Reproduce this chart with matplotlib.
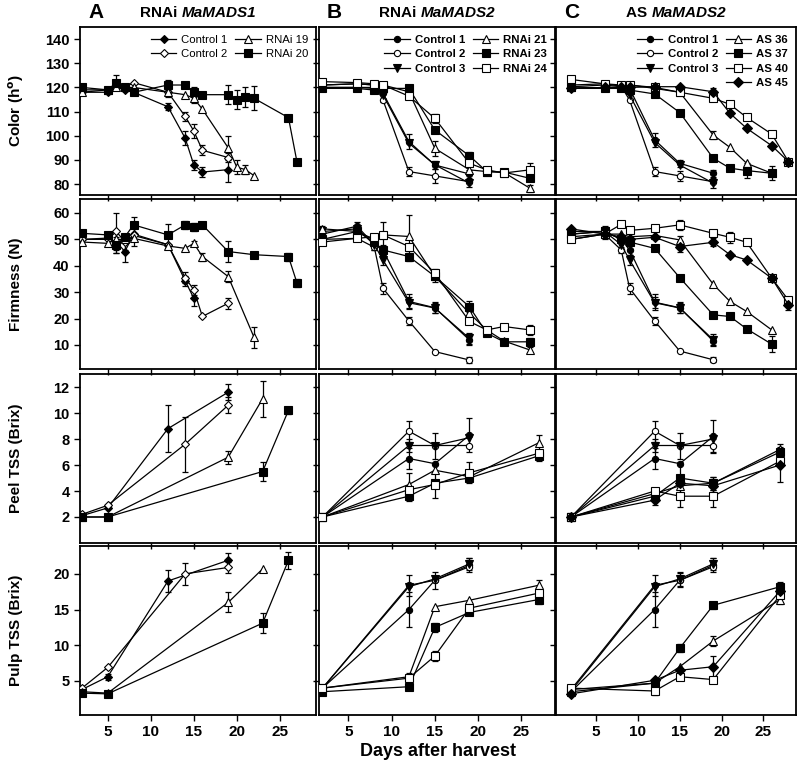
import matplotlib
matplotlib.use('Agg')
import matplotlib.pyplot as plt
from matplotlib.lines import Line2D

plt.rcParams['font.family'] = ['Liberation Sans', 'DejaVu Sans']

# ===================== DATA =====================
# ---- Panel A (RNAi MaMADS1) ----
A_COL_D_CTRL = [2, 5, 6, 7, 8, 12, 14, 15, 16, 19]
A_COL_D_R19 = [2, 5, 6, 7, 8, 12, 14, 15, 16, 19, 20, 21, 22]
A_COL_D_R20 = [2, 5, 6, 7, 8, 12, 14, 15, 16, 19, 20, 21, 22, 26, 27]
A_COL_C1 = [118, 118, 120, 119, 118, 112, 99, 88, 85, 86]
A_COL_C1_E = [0, 0, 0, 0, 0, 1.5, 3, 2, 2, 5]
A_COL_C2 = [119, 119, 121, 120, 122, 118, 108, 102, 94, 91]
A_COL_C2_E = [0, 0, 0, 0, 0, 2, 2, 3, 2, 2]
A_COL_R19 = [118, 119, 120, 120, 120, 118, 117, 115.5, 111, 95, 87, 86, 83.5]
A_COL_R19_E = [0, 0, 0, 0, 0, 0, 0, 2, 0, 5, 3, 2, 0]
A_COL_R20 = [120, 119, 122, 120, 118, 121, 121, 118, 117, 117, 115, 116, 115.5, 107.5, 89]
A_COL_R20_E = [0, 0, 3, 0, 0, 2, 0, 2, 0, 4, 4, 4, 5, 0, 0]

A_FIR_D_C1 = [2, 5, 6, 7, 8, 12, 14, 15]
A_FIR_D_C2 = [2, 5, 6, 7, 8, 12, 14, 15, 16, 19]
A_FIR_D_R19 = [2, 5, 6, 7, 8, 12, 14, 15, 16, 19, 22]
A_FIR_D_R20 = [2, 5, 6, 7, 8, 12, 14, 15, 16, 19, 22, 26, 27]
A_FIR_C1 = [50, 50.5, 49, 45.4, 52, 48, 34.3, 27.7]
A_FIR_C1_E = [0, 0, 4, 4, 0, 0, 2, 3]
A_FIR_C2 = [50, 50, 53, 49, 51.5, 48, 35.5, 30.9, 20.8, 25.8]
A_FIR_C2_E = [0, 0, 7, 3, 4, 0, 2, 2, 0, 2]
A_FIR_R19 = [49, 48.5, 50, 50, 50.4, 47.5, 46.6, 48.5, 43.5, 35.9, 12.9]
A_FIR_R19_E = [0, 0, 0, 0, 0, 0, 0, 1, 1.5, 2, 4]
A_FIR_R20 = [52.3, 51.7, 48, 51, 55.5, 51.7, 55.5, 54.6, 55.5, 45.4, 44.2, 43.5, 33.4]
A_FIR_R20_E = [0, 0, 3, 0, 3, 4, 1.5, 1.5, 1, 4, 0, 1.5, 1.5]

A_TSS_D_C1 = [2, 5, 12, 19]
A_TSS_D_C2 = [2, 5, 14, 19]
A_TSS_D_R19 = [2, 5, 19, 23]
A_TSS_D_R20 = [2, 5, 23, 26]
A_PEEL_C1 = [2.1, 2.7, 8.8, 11.6]
A_PEEL_C1_E = [0, 0, 1.8, 0.6]
A_PEEL_C2 = [2.2, 2.9, 7.6, 10.6]
A_PEEL_C2_E = [0, 0, 2.1, 0.6]
A_PEEL_R19 = [2.0, 2.0, 6.6, 11.1]
A_PEEL_R19_E = [0, 0, 0.5, 1.4]
A_PEEL_R20 = [2.0, 2.0, 5.5, 10.2]
A_PEEL_R20_E = [0, 0, 0.7, 0.3]
A_PULP_C1 = [3.8, 5.6, 19.0, 21.9]
A_PULP_C1_E = [0, 0.4, 1.5, 1.0]
A_PULP_C2 = [4.0, 6.9, 20.0, 20.9]
A_PULP_C2_E = [0, 0, 1.5, 0.8]
A_PULP_R19 = [3.5, 3.3, 16.0, 20.7]
A_PULP_R19_E = [0, 0, 1.4, 0]
A_PULP_R20 = [3.3, 3.2, 13.1, 21.9]
A_PULP_R20_E = [0, 0, 1.4, 1.2]

# ---- Panels B and C shared days ----
BC_D_CTRL = [2, 6, 8, 9, 12, 15, 19]
BC_D_TRANS = [2, 6, 8, 9, 12, 15, 19, 21, 23, 26]
C_D_TRANS_LONG = [2, 6, 8, 9, 12, 15, 19, 21, 23, 26, 28]
BC_TSS_D_CTRL = [2, 12, 15, 19]
BC_TSS_D_TRANS = [2, 12, 15, 19, 27]

# ---- Panel B (RNAi MaMADS2) ----
B_COL_C1 = [120, 120, 120, 117.6, 97.6, 87.9, 84.2]
B_COL_C1_E = [0, 0, 0, 0, 3, 1.5, 1.5]
B_COL_C2 = [121, 121.5, 121, 114.8, 85.2, 83.4, 81]
B_COL_C2_E = [0, 0, 0, 0, 2, 3, 0]
B_COL_C3 = [120, 120, 119.6, 116.9, 96.9, 88, 80.4]
B_COL_C3_E = [0, 0, 0, 3, 0, 0, 1.5]
B_COL_R21 = [121, 121.5, 121, 121, 118.2, 94.8, 85.9, 85.2, 84.8, 78.3]
B_COL_R21_E = [0, 0, 0, 0, 0, 3, 0, 0, 0, 1.5]
B_COL_R23 = [119.6, 119.6, 118.9, 119.6, 119.6, 102.4, 91.7, 85.2, 85, 82.4]
B_COL_R23_E = [0, 0, 0, 0, 0, 0, 1.5, 0, 0, 0]
B_COL_R24 = [122.4, 122, 121.5, 121, 116.4, 107.2, 88.6, 85.9, 84.6, 85.9]
B_COL_R24_E = [0, 0, 0, 0, 0, 2, 0, 0, 0, 3]

B_FIR_C1 = [52, 55, 48, 46, 26.5, 24.1, 11.9]
B_FIR_C1_E = [0, 1.5, 0, 2, 3, 2, 2]
B_FIR_C2 = [50, 50.4, 47, 31.5, 19.1, 7.5, 4.3]
B_FIR_C2_E = [0, 0, 1, 2, 1.5, 0, 1]
B_FIR_C3 = [53, 54, 48, 42.2, 26, 24, 12.5]
B_FIR_C3_E = [2, 1, 2, 2, 2, 2, 2]
B_FIR_R21 = [54, 53, 50, 51.7, 51.1, 36, 22, 15.7, 11.5, 8.1]
B_FIR_R21_E = [0, 0, 2, 0, 8, 0, 0, 0, 0, 1]
B_FIR_R23 = [50, 53, 49, 46, 43.5, 36, 24.5, 14.5, 11.2, 11.2]
B_FIR_R23_E = [0, 0, 0, 0, 1.5, 2, 2, 0, 1, 1.5]
B_FIR_R24 = [49, 50.4, 51, 51.7, 47.3, 37.2, 18.9, 15.7, 17, 15.7]
B_FIR_R24_E = [0, 0, 0, 5, 0, 1.5, 0, 0, 0, 2]

B_PEEL_C1 = [2.0, 6.5, 6.1, 8.3]
B_PEEL_C1_E = [0, 0.8, 0, 1.3]
B_PEEL_C2 = [2.0, 8.6, 7.5, 7.5]
B_PEEL_C2_E = [0, 0.8, 0, 0]
B_PEEL_C3 = [2.0, 7.5, 7.5, 8.1]
B_PEEL_C3_E = [0, 0.5, 1.0, 0]
B_PEEL_R21 = [2.0, 4.5, 5.6, 5.1, 7.7]
B_PEEL_R21_E = [0, 0.9, 0, 0, 0.6]
B_PEEL_R23 = [2.0, 3.6, 4.6, 5.0, 6.7]
B_PEEL_R23_E = [0, 0.4, 0, 0, 0.4]
B_PEEL_R24 = [2.0, 4.1, 4.5, 5.4, 6.9]
B_PEEL_R24_E = [0, 0, 1.0, 0.8, 0]

B_PULP_C1 = [4.0, 15.0, 19.1, 21.2]
B_PULP_C1_E = [0, 2.5, 1.2, 1.0]
B_PULP_C2 = [4.0, 18.4, 19.1, 21.0]
B_PULP_C2_E = [0, 1.5, 0, 0]
B_PULP_C3 = [4.0, 18.2, 19.3, 21.4]
B_PULP_C3_E = [0, 0, 0, 0.8]
B_PULP_R21 = [4.0, 5.6, 15.4, 16.3, 18.4]
B_PULP_R21_E = [0, 0, 0, 0, 0.8]
B_PULP_R23 = [3.5, 4.2, 12.5, 14.6, 16.4]
B_PULP_R23_E = [0, 0, 0.6, 0, 0.6]
B_PULP_R24 = [4.0, 5.4, 8.5, 15.2, 17.3]
B_PULP_R24_E = [0, 0.7, 0.7, 0, 0]

# ---- Panel C (AS MaMADS2) ----
C_COL_C1 = [119.6, 120, 120, 119.6, 98.3, 88.6, 84.5]
C_COL_C1_E = [0, 0, 0, 0, 3, 1.5, 1.5]
C_COL_C2 = [121, 121.5, 120.5, 114.8, 85.2, 83.4, 81]
C_COL_C2_E = [0, 0, 0, 0, 2, 2, 0]
C_COL_C3 = [119.6, 119.6, 119.6, 116.9, 97.2, 87.9, 80.4]
C_COL_C3_E = [0, 0, 0, 0, 0, 0, 2]
C_COL_AS36 = [120.3, 121, 120.3, 121, 119.6, 118, 100.3, 95.2, 88.6, 84.5]
C_COL_AS36_E = [0, 0, 0, 0, 0, 0, 1.5, 0, 0, 0]
C_COL_AS37 = [120.3, 119.6, 119.6, 118.9, 117.3, 109.6, 90.7, 86.6, 85.6, 84.5]
C_COL_AS37_E = [0, 0, 0, 0, 0, 0, 0, 0, 3, 3]
C_COL_AS40 = [123.3, 121.5, 121, 121, 120, 118, 115.5, 113, 107.6, 100.7, 89.3]
C_COL_AS40_E = [0, 0, 0, 0, 0, 0, 0, 0, 0, 0, 0]
C_COL_AS45 = [119.6, 120, 120, 120, 120.3, 120.3, 118.2, 109.3, 103.1, 95.9, 89.3]
C_COL_AS45_E = [0, 0, 0, 0, 0, 0, 1.5, 0, 0, 0, 0]

C_FIR_C1 = [53, 53, 50, 46, 26.2, 24.1, 11.5]
C_FIR_C1_E = [0, 1.5, 0, 2, 3, 2, 2]
C_FIR_C2 = [50, 52, 46, 31.5, 19.1, 7.7, 4.4]
C_FIR_C2_E = [1, 0, 1, 2, 1.5, 0, 1]
C_FIR_C3 = [52, 53, 48, 42.2, 26, 24, 12]
C_FIR_C3_E = [2, 2, 2, 2, 2, 2, 2]
C_FIR_AS36 = [51, 52, 52, 51, 51.5, 49.8, 33, 26.5, 22.7, 15.7]
C_FIR_AS36_E = [0, 0, 0, 0, 0, 1.5, 0, 0, 0, 0]
C_FIR_AS37 = [52, 53, 50, 49, 46.6, 35.5, 21.4, 20.8, 16.1, 10.3]
C_FIR_AS37_E = [0, 0, 0, 0, 0, 0, 0, 0, 0, 3]
C_FIR_AS40 = [50, 52, 55.7, 53.4, 54.2, 55.5, 52.3, 50.8, 48.9, 35.3, 27]
C_FIR_AS40_E = [0, 1.5, 0, 0, 0, 2, 0, 2, 0, 0, 0]
C_FIR_AS45 = [54, 52, 51, 50, 50.8, 47.3, 48.9, 44.2, 42.2, 35.3, 25.2]
C_FIR_AS45_E = [0, 2, 0, 0, 0, 2, 1.5, 0, 0, 0, 2]

C_PEEL_C1 = [2.0, 6.5, 6.1, 8.2]
C_PEEL_C1_E = [0, 0.8, 0, 1.3]
C_PEEL_C2 = [2.0, 8.6, 7.5, 7.5]
C_PEEL_C2_E = [0, 0.8, 0, 0.5]
C_PEEL_C3 = [2.0, 7.5, 7.5, 8.0]
C_PEEL_C3_E = [0, 0.5, 1.0, 0]
C_PEEL_AS36 = [2.0, 3.8, 4.4, 4.6, 7.2]
C_PEEL_AS36_E = [0, 0, 0, 0.5, 0.4]
C_PEEL_AS37 = [2.0, 3.6, 5.0, 4.6, 7.0]
C_PEEL_AS37_E = [0, 0, 1.2, 0.5, 0.4]
C_PEEL_AS40 = [2.0, 4.0, 3.6, 3.6, 6.3]
C_PEEL_AS40_E = [0, 0, 0.8, 0.8, 0]
C_PEEL_AS45 = [2.0, 3.3, 4.6, 4.4, 6.0]
C_PEEL_AS45_E = [0, 0.4, 0, 0, 1.3]

C_PULP_C1 = [3.5, 15.0, 19.1, 21.2]
C_PULP_C1_E = [0, 2.5, 1.0, 1.0]
C_PULP_C2 = [3.8, 18.4, 19.1, 21.0]
C_PULP_C2_E = [0, 1.5, 0, 0]
C_PULP_C3 = [3.6, 18.2, 19.3, 21.4]
C_PULP_C3_E = [0, 0, 1.0, 0.8]
C_PULP_AS36 = [3.5, 4.7, 7.0, 10.6, 16.4]
C_PULP_AS36_E = [0, 0, 0, 0.7, 0.6]
C_PULP_AS37 = [3.8, 4.7, 9.6, 15.6, 18.2]
C_PULP_AS37_E = [0, 0, 0.6, 0.5, 0.6]
C_PULP_AS40 = [4.0, 3.6, 5.6, 5.2, 17.0]
C_PULP_AS40_E = [0, 0.6, 0, 0, 0]
C_PULP_AS45 = [3.2, 5.1, 6.5, 7.0, 17.6]
C_PULP_AS45_E = [0, 0, 0, 1.5, 0]

PANEL_LETTERS = ['A', 'B', 'C']
PANEL_PREFIX = ['RNAi ', 'RNAi ', 'AS ']
PANEL_GENE = ['MaMADS1', 'MaMADS2', 'MaMADS2']
ROW_LABELS = [r'Color (h$^{\mathbf{o}}$)', 'Firmness (N)', 'Peel TSS (Brix)', 'Pulp TSS (Brix)']
ROW_TICKS = [[80, 90, 100, 110, 120, 130, 140], [10, 20, 30, 40, 50, 60],
             [2, 4, 6, 8, 10, 12], [5, 10, 15, 20]]
X_TICKS = [5, 10, 15, 20, 25]

# ===================== STYLE / LAYOUT =====================
W, H = 800, 774
COL_PX = [(80, 316), (319, 555), (556, 796)]
ROW_PX = [(27, 195), (199, 369), (374, 543), (546, 715)]
XLIMS = [(1.78, 29.2), (1.6, 28.9), (0.2, 28.9)]
YLIMS = [(75.5, 145), (0.9, 65.3), (0, 13), (0.24, 23.9)]

STY = {
    'A_C1': dict(marker='D', mfc='k', ms=4.2),
    'A_C2': dict(marker='D', mfc='w', ms=4.2),
    'C1': dict(marker='o', mfc='k', ms=4.5),
    'C2': dict(marker='o', mfc='w', ms=4.5),
    'C3': dict(marker='v', mfc='k', ms=5.5),
    'T1': dict(marker='^', mfc='w', ms=5.5),
    'T2': dict(marker='s', mfc='k', ms=5.2),
    'T3': dict(marker='s', mfc='w', ms=5.2),
    'T4': dict(marker='D', mfc='k', ms=4.6),
}

fig = plt.figure(figsize=(W / 100, H / 100), dpi=100)


def make_ax(c, r):
    x0, x1 = COL_PX[c]
    y0, y1 = ROW_PX[r]
    return fig.add_axes([x0 / W, 1 - y1 / H, (x1 - x0) / W, (y1 - y0) / H])


def draw(ax, x, y, e, key, label):
    st = STY[key]
    ax.plot(x, y, color='k', lw=0.9, marker=st['marker'], ms=st['ms'],
            mfc=st['mfc'], mec='k', mew=0.8, label=label, zorder=3)
    xs = [xi for xi, ei in zip(x, e) if ei > 0]
    ys = [yi for yi, ei in zip(y, e) if ei > 0]
    es = [ei for ei in e if ei > 0]
    if xs:
        ax.errorbar(xs, ys, yerr=es, fmt='none', ecolor='k', elinewidth=0.9,
                    capsize=2, capthick=0.9, zorder=2)


panels = {}
for c in range(3):
    for r in range(4):
        ax = make_ax(c, r)
        panels[(c, r)] = ax
        ax.set_xlim(*XLIMS[c])
        ax.set_ylim(*YLIMS[r])
        ax.set_xticks(X_TICKS)
        ax.set_yticks(ROW_TICKS[r])
        ax.tick_params(direction='out', length=4, width=1, top=False, right=False)
        for sp in ax.spines.values():
            sp.set_linewidth(1.3)
        if c == 0:
            ax.set_yticklabels([str(t) for t in ROW_TICKS[r]], fontsize=10.5, fontweight='bold')
        else:
            ax.set_yticklabels([])
        if r == 3:
            ax.set_xticklabels([str(t) for t in X_TICKS], fontsize=11, fontweight='bold')
        else:
            ax.set_xticklabels([])
        ax.set_facecolor('none')

# ---- Panel A ----
a = panels[(0, 0)]
draw(a, A_COL_D_CTRL, A_COL_C1, A_COL_C1_E, 'A_C1', 'Control 1')
draw(a, A_COL_D_CTRL, A_COL_C2, A_COL_C2_E, 'A_C2', 'Control 2')
draw(a, A_COL_D_R19, A_COL_R19, A_COL_R19_E, 'T1', 'RNAi 19')
draw(a, A_COL_D_R20, A_COL_R20, A_COL_R20_E, 'T2', 'RNAi 20')
a = panels[(0, 1)]
draw(a, A_FIR_D_C1, A_FIR_C1, A_FIR_C1_E, 'A_C1', 'Control 1')
draw(a, A_FIR_D_C2, A_FIR_C2, A_FIR_C2_E, 'A_C2', 'Control 2')
draw(a, A_FIR_D_R19, A_FIR_R19, A_FIR_R19_E, 'T1', 'RNAi 19')
draw(a, A_FIR_D_R20, A_FIR_R20, A_FIR_R20_E, 'T2', 'RNAi 20')
a = panels[(0, 2)]
draw(a, A_TSS_D_C1, A_PEEL_C1, A_PEEL_C1_E, 'A_C1', 'Control 1')
draw(a, A_TSS_D_C2, A_PEEL_C2, A_PEEL_C2_E, 'A_C2', 'Control 2')
draw(a, A_TSS_D_R19, A_PEEL_R19, A_PEEL_R19_E, 'T1', 'RNAi 19')
draw(a, A_TSS_D_R20, A_PEEL_R20, A_PEEL_R20_E, 'T2', 'RNAi 20')
a = panels[(0, 3)]
draw(a, A_TSS_D_C1, A_PULP_C1, A_PULP_C1_E, 'A_C1', 'Control 1')
draw(a, A_TSS_D_C2, A_PULP_C2, A_PULP_C2_E, 'A_C2', 'Control 2')
draw(a, A_TSS_D_R19, A_PULP_R19, A_PULP_R19_E, 'T1', 'RNAi 19')
draw(a, A_TSS_D_R20, A_PULP_R20, A_PULP_R20_E, 'T2', 'RNAi 20')

# ---- Panel B ----
b_rows = [
    (BC_D_CTRL, BC_D_TRANS,
     [(B_COL_C1, B_COL_C1_E), (B_COL_C2, B_COL_C2_E), (B_COL_C3, B_COL_C3_E)],
     [(B_COL_R21, B_COL_R21_E), (B_COL_R23, B_COL_R23_E), (B_COL_R24, B_COL_R24_E)]),
    (BC_D_CTRL, BC_D_TRANS,
     [(B_FIR_C1, B_FIR_C1_E), (B_FIR_C2, B_FIR_C2_E), (B_FIR_C3, B_FIR_C3_E)],
     [(B_FIR_R21, B_FIR_R21_E), (B_FIR_R23, B_FIR_R23_E), (B_FIR_R24, B_FIR_R24_E)]),
    (BC_TSS_D_CTRL, BC_TSS_D_TRANS,
     [(B_PEEL_C1, B_PEEL_C1_E), (B_PEEL_C2, B_PEEL_C2_E), (B_PEEL_C3, B_PEEL_C3_E)],
     [(B_PEEL_R21, B_PEEL_R21_E), (B_PEEL_R23, B_PEEL_R23_E), (B_PEEL_R24, B_PEEL_R24_E)]),
    (BC_TSS_D_CTRL, BC_TSS_D_TRANS,
     [(B_PULP_C1, B_PULP_C1_E), (B_PULP_C2, B_PULP_C2_E), (B_PULP_C3, B_PULP_C3_E)],
     [(B_PULP_R21, B_PULP_R21_E), (B_PULP_R23, B_PULP_R23_E), (B_PULP_R24, B_PULP_R24_E)]),
]
ctrl_keys = ['C1', 'C2', 'C3']
ctrl_names = ['Control 1', 'Control 2', 'Control 3']
b_keys = ['T1', 'T2', 'T3']
b_names = ['RNAi 21', 'RNAi 23', 'RNAi 24']
for r, (dc, dt, ctrls, trans) in enumerate(b_rows):
    a = panels[(1, r)]
    for (v, e), k, n in zip(ctrls, ctrl_keys, ctrl_names):
        draw(a, dc, v, e, k, n)
    for (v, e), k, n in zip(trans, b_keys, b_names):
        draw(a, dt, v, e, k, n)

# ---- Panel C ----
c_rows = [
    (BC_D_CTRL, [BC_D_TRANS, BC_D_TRANS, C_D_TRANS_LONG, C_D_TRANS_LONG],
     [(C_COL_C1, C_COL_C1_E), (C_COL_C2, C_COL_C2_E), (C_COL_C3, C_COL_C3_E)],
     [(C_COL_AS36, C_COL_AS36_E), (C_COL_AS37, C_COL_AS37_E), (C_COL_AS40, C_COL_AS40_E), (C_COL_AS45, C_COL_AS45_E)]),
    (BC_D_CTRL, [BC_D_TRANS, BC_D_TRANS, C_D_TRANS_LONG, C_D_TRANS_LONG],
     [(C_FIR_C1, C_FIR_C1_E), (C_FIR_C2, C_FIR_C2_E), (C_FIR_C3, C_FIR_C3_E)],
     [(C_FIR_AS36, C_FIR_AS36_E), (C_FIR_AS37, C_FIR_AS37_E), (C_FIR_AS40, C_FIR_AS40_E), (C_FIR_AS45, C_FIR_AS45_E)]),
    (BC_TSS_D_CTRL, [BC_TSS_D_TRANS] * 4,
     [(C_PEEL_C1, C_PEEL_C1_E), (C_PEEL_C2, C_PEEL_C2_E), (C_PEEL_C3, C_PEEL_C3_E)],
     [(C_PEEL_AS36, C_PEEL_AS36_E), (C_PEEL_AS37, C_PEEL_AS37_E), (C_PEEL_AS40, C_PEEL_AS40_E), (C_PEEL_AS45, C_PEEL_AS45_E)]),
    (BC_TSS_D_CTRL, [BC_TSS_D_TRANS] * 4,
     [(C_PULP_C1, C_PULP_C1_E), (C_PULP_C2, C_PULP_C2_E), (C_PULP_C3, C_PULP_C3_E)],
     [(C_PULP_AS36, C_PULP_AS36_E), (C_PULP_AS37, C_PULP_AS37_E), (C_PULP_AS40, C_PULP_AS40_E), (C_PULP_AS45, C_PULP_AS45_E)]),
]
c_keys = ['T1', 'T2', 'T3', 'T4']
c_names = ['AS 36', 'AS 37', 'AS 40', 'AS 45']
for r, (dc, dts, ctrls, trans) in enumerate(c_rows):
    a = panels[(2, r)]
    for (v, e), k, n in zip(ctrls, ctrl_keys, ctrl_names):
        draw(a, dc, v, e, k, n)
    for (v, e), dt, k, n in zip(trans, dts, c_keys, c_names):
        draw(a, dt, v, e, k, n)

# ---- Legends ----
leg_kw = dict(ncol=2, loc='upper right', frameon=False, handlelength=2.2,
              columnspacing=0.7, handletextpad=0.45, labelspacing=0.38,
              borderaxespad=0.3)
h, l = panels[(0, 0)].get_legend_handles_labels()
panels[(0, 0)].legend(h, l, prop={'size': 8.2}, **leg_kw)
h, l = panels[(1, 0)].get_legend_handles_labels()
panels[(1, 0)].legend(h, l, prop={'size': 8.2, 'weight': 'bold'}, **leg_kw)
h, l = panels[(2, 0)].get_legend_handles_labels()
blank = Line2D([], [], color='none')
h2 = h[:3] + [blank] + h[3:]
l2 = l[:3] + [''] + l[3:]
panels[(2, 0)].legend(h2, l2, prop={'size': 8.2, 'weight': 'bold'}, **leg_kw)

# ---- Titles ----
renderer = fig.canvas.get_renderer()
for c in range(3):
    x0, x1 = COL_PX[c]
    fig.text((x0 + 8) / W, 1 - 13 / H, PANEL_LETTERS[c], fontsize=15, fontweight='bold',
             ha='left', va='center')
    t1 = fig.text(0, 1 - 13 / H, PANEL_PREFIX[c], fontsize=11, fontweight='bold',
                  ha='left', va='center')
    t2 = fig.text(0, 1 - 13 / H, PANEL_GENE[c], fontsize=11, fontweight='bold',
                  style='italic', ha='left', va='center')
    w1 = t1.get_window_extent(renderer).width
    w2 = t2.get_window_extent(renderer).width
    xc = (x0 + x1) / 2
    start = xc - (w1 + w2) / 2
    t1.set_x(start / W)
    t2.set_x((start + w1) / W)

# ---- Axis labels ----
for r in range(4):
    y0, y1 = ROW_PX[r]
    fig.text(16 / W, 1 - (y0 + y1) / 2 / H, ROW_LABELS[r], rotation=90, fontsize=11,
             fontweight='bold', ha='center', va='center')
fig.text(438 / W, 1 - 752 / H, 'Days after harvest', fontsize=13, fontweight='bold',
         ha='center', va='center')

fig.savefig('out.png', dpi=100)
